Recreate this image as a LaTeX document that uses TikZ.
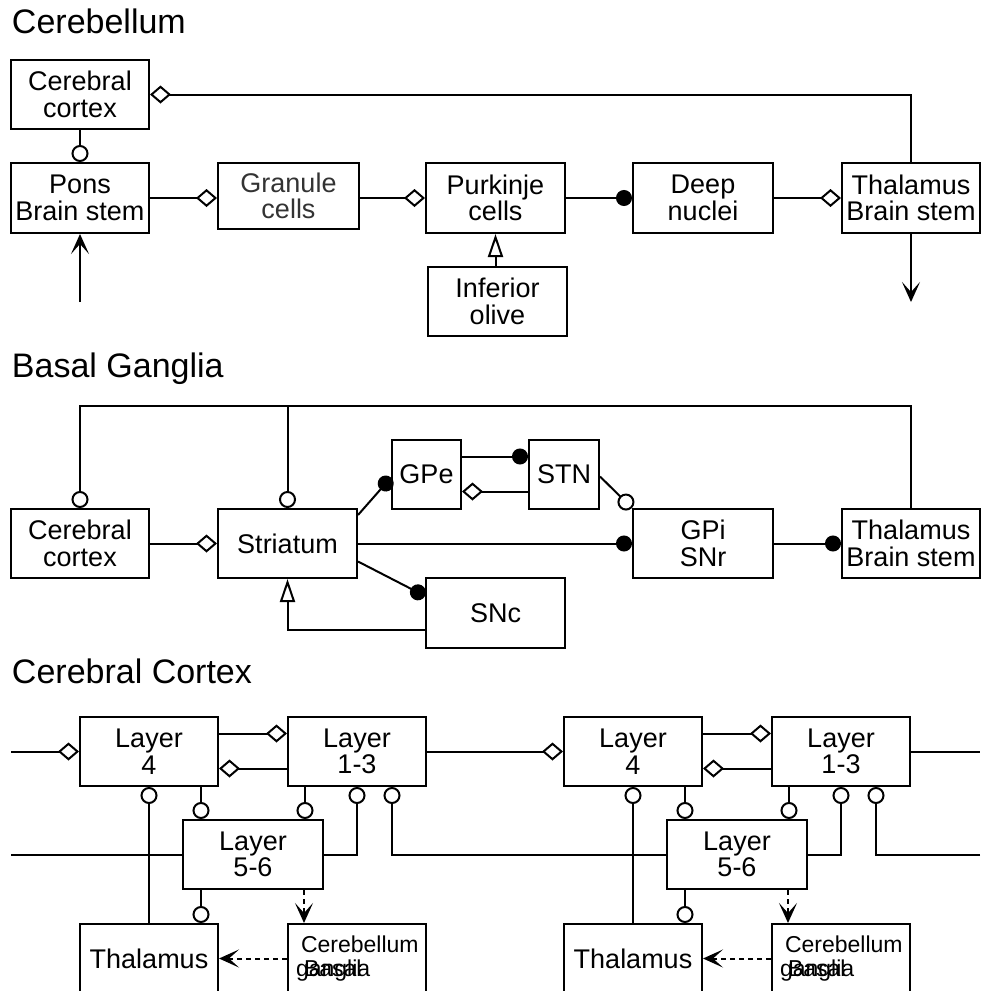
\documentclass[tikz,border=0pt]{standalone}
\usepackage{fontspec}
\setmainfont{Liberation Sans}
\usetikzlibrary{arrows.meta,calc}
\begin{document}
\begin{tikzpicture}[x=1pt,y=-1pt,line width=2pt,
  box/.style={draw,line width=2pt,inner sep=0pt,align=center,
    font=\fontsize{27}{26.5}\selectfont},
  ttl/.style={anchor=base west,inner sep=0pt,font=\fontsize{34}{34}\selectfont},
  sml/.style={anchor=base west,inner sep=0pt,font=\fontsize{23}{23}\selectfont},
  circ/.style={-{Circle[open,length=17pt]}},
  dia/.style={-{Diamond[open,length=21pt,width=18pt]}},
  fcirc/.style={-{Circle[length=16pt]}},
  tri/.style={-{Triangle[open,length=23pt,width=15pt]}},
  arr/.style={-{Stealth[length=20pt,width=18pt,inset=10pt]}},
  dsh/.style={dash pattern=on 5pt off 4pt}]
\useasboundingbox (0,0) rectangle (981,991);
\clip (0,0) rectangle (981,991);

% ---------- Titles
\node[ttl] (t1) at (11,33) {Cerebellum};
\node[ttl] (t2) at (11,377) {Basal Ganglia};
\node[ttl] (t3) at (11,683) {Cerebral Cortex};

% ---------- Cerebellum
\node[box,minimum width=138,minimum height=69] (cc1) at (80,94.5) {Cerebral\\cortex};
\node[box,minimum width=138,minimum height=70] (pons) at (80,198) {Pons\\Brain stem};
\node[box,minimum width=141,minimum height=66,text=black!80] (gran) at (288.5,196) {Granule\\cells};
\node[box,minimum width=139,minimum height=70] (purk) at (495.5,198) {Purkinje\\cells};
\node[box,minimum width=139,minimum height=69] (olive) at (497.5,301.5) {Inferior\\olive};
\node[box,minimum width=140,minimum height=70] (deep) at (703,198) {Deep\\nuclei};
\node[box,minimum width=138,minimum height=70] (thal1) at (911,198) {Thalamus\\Brain stem};

\coordinate (pin) at (80,302);
\coordinate (pout) at (911,302);
\draw[arr] (pin) -- (pons.south);
\draw[circ] (cc1.south) -- (pons.north);
\draw[dia] (pons.east) -- (pons.east -| gran.west);
\draw[dia] (gran.east |- pons.east) -- (purk.west);
\draw[fcirc] (purk.east) -- (deep.west);
\draw[dia] (deep.east) -- (thal1.west);
\draw[tri] (olive.north -| purk.south) -- (purk.south);
\draw[arr] (thal1.south) -- (pout);
\draw[dia] (thal1.north) |- (cc1.east);

% ---------- Basal Ganglia
\node[box,minimum width=138,minimum height=69] (cc2) at (80,543.5) {Cerebral\\cortex};
\node[box,minimum width=139,minimum height=69] (str) at (287.5,543.5) {Striatum};
\node[box,minimum width=69,minimum height=69] (gpe) at (426.5,474.5) {GPe};
\node[box,minimum width=70,minimum height=69] (stn) at (564,474.5) {STN};
\node[box,minimum width=140,minimum height=69] (gpi) at (703,543.5) {GPi\\SNr};
\node[box,minimum width=138,minimum height=69] (thal2) at (911,543.5) {Thalamus\\Brain stem};
\node[box,minimum width=139,minimum height=70] (snc) at (495.5,613) {SNc};

\coordinate (bgtop) at (80,406);
\draw[circ] (thal2.north) |- (bgtop) -- (cc2.north);
\draw[circ] (str.north |- bgtop) -- (str.north);
\draw[dia] (cc2.east) -- (str.west);
\draw[fcirc] (str.east) -- (gpi.west);
\draw[fcirc] (gpi.east) -- (thal2.west);
\draw[fcirc] ($(str.north east)+(0,7)$) -- ($(gpe.west)+(0,3)$);
\draw[fcirc] ($(gpe.east)+(0,-18)$) -- ($(stn.west)+(0,-18)$);
\draw[dia] ($(stn.west)+(0,17)$) -- ($(gpe.east)+(0,17)$);
\draw[circ] ($(stn.east)+(0,2)$) -- (gpi.north west);
\draw[fcirc] ($(str.east)+(0,18)$) -- ($(snc.north west)+(0,19)$);
\draw[tri] ($(snc.west)+(0,17)$) -| (str.south);

% ---------- Cerebral Cortex (two copies)
\foreach \s/\p in {0/a,484/b}{
  \node[box,minimum width=138,minimum height=69] (\p l4) at (149+\s,751.5) {Layer\\4};
  \node[box,minimum width=138,minimum height=69] (\p l13) at (357+\s,751.5) {Layer\\1-3};
  \node[box,minimum width=140,minimum height=69] (\p l56) at (253+\s,854.5) {Layer\\5-6};
  \node[box,minimum width=138,minimum height=69] (\p th) at (149+\s,958.5) {Thalamus};
  \node[box,minimum width=138,minimum height=69] (\p cb) at (357+\s,958.5) {};
  \node[sml] (\p cbt) at (300+\s,952) {Cerebellum};
  \node[sml] (\p cbg) at (295+\s,976) {ganglia};
  \node[sml] (\p cbb) at (303+\s,976) {Basal};

  \draw[dia] ($(\p l4.east)+(0,-18)$) -- ($(\p l13.west)+(0,-18)$);
  \draw[dia] ($(\p l13.west)+(0,17)$) -- ($(\p l4.east)+(0,17)$);
  \draw[circ] (\p th.north) -- (\p l4.south);
  \coordinate (\p p1) at ($(\p l4.south)+(52,0)$);
  \draw[circ] (\p p1) -- (\p p1 |- \p l56.north);
  \coordinate (\p p2) at ($(\p l13.south)+(-52,0)$);
  \draw[circ] (\p p2) -- (\p p2 |- \p l56.north);
  \draw[circ] (\p l56.east) -| (\p l13.south);
  \coordinate (\p p3) at ($(\p l56.south)+(-52,0)$);
  \draw[circ] (\p p3) -- (\p p3 |- \p th.north);
  \coordinate (\p p4) at ($(\p l56.south)+(51,0)$);
  \draw[dsh,arr] (\p p4) -- (\p p4 |- \p cb.north);
  \draw[dsh,arr] (\p cb.west) -- (\p th.east);
  \coordinate (\p q) at ($(\p l13.south)+(35,0)$);
}
\coordinate (ain) at (11,751.5);
\coordinate (ain2) at (11,854.5);
\coordinate (bout) at (980,751.5);
\coordinate (bout2) at (980,854.5);
\draw[dia] (ain) -- (al4.west);
\draw[dia] (al13.east) -- (bl4.west);
\draw (bl13.east) -- (bout);
\draw (ain2) -- (al56.west);
\draw[circ] (bl56.west) -| (aq);
\draw[circ] (bout2) -| (bq);
\end{tikzpicture}
\end{document}
